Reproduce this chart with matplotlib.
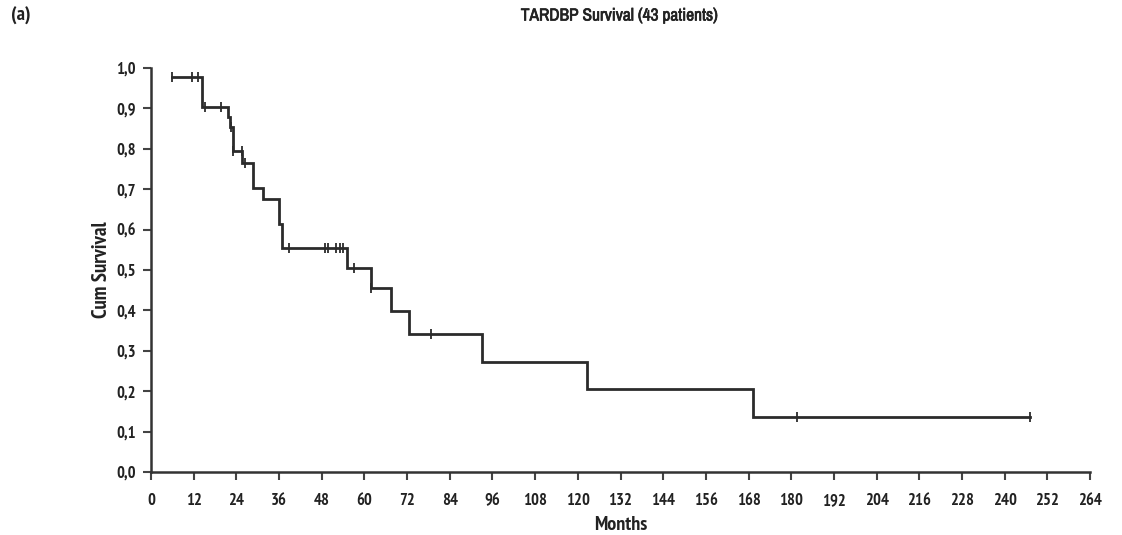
import matplotlib
matplotlib.use("Agg")
import matplotlib.pyplot as plt
from matplotlib import font_manager as fm
import matplotlib.patheffects as pe
import numpy as np

# ---- data ----
start_time = 5.9
start_surv = 0.977
event_times = [14.3, 21.6, 22.2, 23.1, 25.7, 28.6, 31.6, 36.1, 36.7, 55.2,
               61.8, 67.4, 72.6, 93.0, 122.5, 169.3]
event_surv = [0.903, 0.878, 0.853, 0.795, 0.766, 0.702, 0.675, 0.613, 0.554,
              0.504, 0.455, 0.399, 0.341, 0.273, 0.205, 0.137]
end_time = 247.0
censor_times = [5.9, 11.5, 13.1, 15.2, 19.6, 22.4, 23.1, 25.5, 26.4, 38.8,
                48.9, 49.9, 52.1, 53.0, 53.9, 57.2, 61.9, 78.6, 181.7, 247.0]
x_ticks = list(range(0, 265, 12))
y_ticks = [0.0, 0.1, 0.2, 0.3, 0.4, 0.5, 0.6, 0.7, 0.8, 0.9, 1.0]
y_tick_labels = ["0,0", "0,1", "0,2", "0,3", "0,4", "0,5", "0,6", "0,7", "0,8", "0,9", "1,0"]
title = "TARDBP Survival (43 patients)"
panel = "(a)"
x_label = "Months"
y_label = "Cum Survival"

entries = fm.fontManager.ttflist
narrow = [f for f in entries if "Narrow" in f.name]
bold_narrow = [f for f in narrow if (f.weight in (700, "bold")) and f.style == "normal"]
reg_narrow = [f for f in narrow if (f.weight in (400, "normal", "regular")) and f.style == "normal"]

fake_bold = []
if bold_narrow:
    fp_bold = lambda size: fm.FontProperties(fname=bold_narrow[0].fname, size=size)
else:
    fake_bold = [pe.withStroke(linewidth=0.9, foreground="#222222")]
    if reg_narrow:
        fp_bold = lambda size: fm.FontProperties(fname=reg_narrow[0].fname, size=size)
    else:
        fp_bold = lambda size: fm.FontProperties(family="DejaVu Sans", stretch="condensed",
                                                 weight="bold", size=size)
if reg_narrow:
    fp_reg = lambda size: fm.FontProperties(fname=reg_narrow[0].fname, size=size)
else:
    fp_reg = lambda size: fm.FontProperties(family="DejaVu Sans", stretch="condensed", size=size)

fig = plt.figure(figsize=(11.22, 5.35), dpi=100)
ax = fig.add_axes([151/1122, 1-472/535, (1090-151)/1122, (472-68)/535])

xs = [start_time] + event_times + [end_time]
ys = [start_surv] + event_surv + [event_surv[-1]]
col = "#2b2b2b"
ax.step(xs, ys, where="post", color=col, lw=2.0, solid_joinstyle="miter", clip_on=False)

def surv_at(t):
    s = start_surv
    for et, ev in zip(event_times, event_surv):
        if t >= et:
            s = ev
    return s

cy = [surv_at(t) for t in censor_times]
ax.plot(censor_times, cy, linestyle="none", marker="|", markersize=7,
        markeredgewidth=1.3, color=col, clip_on=False)

ax.set_xlim(0, 264)
ax.set_ylim(0, 1.0)
ax.set_xticks(x_ticks)
ax.set_xticklabels([str(v) for v in x_ticks])
ax.set_yticks(y_ticks)
ax.set_yticklabels(y_tick_labels)
for s in ["top", "right"]:
    ax.spines[s].set_visible(False)
for s in ["left", "bottom"]:
    ax.spines[s].set_linewidth(1.8)
    ax.spines[s].set_color("#333333")
ax.tick_params(axis="both", direction="out", length=6, width=1.5, color="#444444",
               labelcolor="#222222")
ax.tick_params(axis="x", pad=9)
ax.tick_params(axis="y", pad=5)
for lab in ax.get_xticklabels() + ax.get_yticklabels():
    lab.set_fontproperties(fp_bold(12))
    lab.set_path_effects(fake_bold)

ax.set_xlabel(x_label, fontproperties=fp_bold(14.5), color="#222222", labelpad=5,
              path_effects=fake_bold)
ax.set_ylabel(y_label, fontproperties=fp_bold(15), color="#222222", labelpad=4,
              path_effects=fake_bold)

fig.text(620/1122, 1-16/535, title, ha="center", va="center", fontproperties=fp_reg(12.5),
         color="#222222", path_effects=[pe.withStroke(linewidth=0.5, foreground="#222222")])
fig.text(11/1122, 1-16/535, panel, ha="left", va="center", fontproperties=fp_bold(14.5),
         color="#222222", path_effects=fake_bold)

fig.savefig("out.png", dpi=100, facecolor="white")
